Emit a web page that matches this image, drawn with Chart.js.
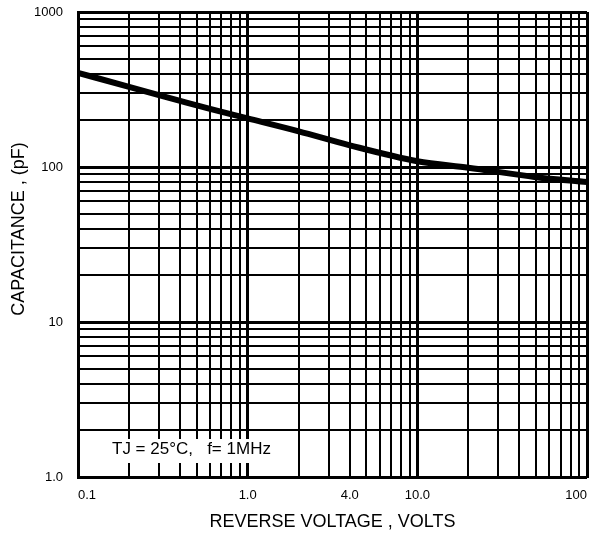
<!DOCTYPE html>
<html><head><meta charset="utf-8">
<script src="https://cdn.jsdelivr.net/npm/chart.js@4"></script>
<style>html,body{margin:0;padding:0;background:#fff}#wrap{width:590px;height:536px}</style>
</head><body><div id="wrap"><canvas id="c" width="590" height="536"></canvas></div>
<script>
// ---- data ----
const reverseVolts  = [0.1, 0.2, 0.3, 0.4, 0.6, 1.0, 2.0, 4.0, 10, 20, 50, 100];
const capacitancePF = [405, 329, 291, 267, 237, 206, 170, 138, 109, 99, 86, 80];
const xTickValues = [0.1, 1, 4, 10, 100];
const xTickTexts  = ['0.1', '1.0', '4.0', '10.0', '100'];
const yTickValues = [1, 10, 100, 1000];
const yTickTexts  = ['1.0', '10', '100', '1000'];
const xTitle = 'REVERSE VOLTAGE , VOLTS';
const yTitle = 'CAPACITANCE , (pF)';
const noteText = 'TJ = 25°C,   f= 1MHz';

const FONT = '"Liberation Sans", Arial, Helvetica, sans-serif';

function logGrid(min, max) {
  const out = [];
  for (let d = min; d < max * 1.0001; d = +(d * 10).toPrecision(6)) {
    for (let k = 1; k < 10; k++) {
      const v = +(d * k).toPrecision(6);
      if (v <= max * 1.0001) out.push(v);
    }
  }
  return out;
}
const xGrid = logGrid(0.1, 100);
const yGrid = logGrid(1, 1000);

function labelFor(v, vals, texts) {
  const i = vals.findIndex(t => Math.abs(t - v) / t < 1e-6);
  return i < 0 ? '' : texts[i];
}
function isDecade(v) {
  const l = Math.log10(v);
  return Math.abs(l - Math.round(l)) < 1e-6;
}
function noPad(s) {
  s.paddingTop = 0; s.paddingBottom = 0; s.paddingLeft = 0; s.paddingRight = 0;
}

const overlay = {
  id: 'overlay',
  beforeDatasetsDraw(chart) {
    const {ctx, chartArea: a} = chart;
    ctx.save();
    ctx.fillStyle = '#fff';
    ctx.fillRect(a.left + 32, a.bottom - 38, 167, 24);
    ctx.fillStyle = '#000';
    ctx.font = '17px ' + FONT;
    ctx.textBaseline = 'middle';
    ctx.textAlign = 'left';
    ctx.fillText(noteText, a.left + 34, a.bottom - 28);
    ctx.restore();
  },
  afterDraw(chart) {
    const {ctx} = chart;
    ctx.save();
    ctx.fillStyle = '#000';
    ctx.font = '18px ' + FONT;
    ctx.textBaseline = 'middle';
    ctx.textAlign = 'center';
    ctx.translate(19, 229);
    ctx.rotate(-Math.PI / 2);
    ctx.fillText(yTitle, 0, 0);
    ctx.restore();
  }
};

new Chart(document.getElementById('c'), {
  type: 'line',
  data: {
    datasets: [{
      data: reverseVolts.map((v, i) => ({x: v, y: capacitancePF[i]})),
      borderColor: '#000',
      borderWidth: 6,
      pointRadius: 0,
      fill: false,
      cubicInterpolationMode: 'monotone'
    }]
  },
  options: {
    responsive: false,
    animation: false,
    layout: {padding: {top: 12, right: 3, left: 0, bottom: 0}},
    plugins: {legend: {display: false}, tooltip: {enabled: false}},
    scales: {
      x: {
        type: 'logarithmic',
        min: 0.1, max: 100,
        afterBuildTicks: s => { s.ticks = xGrid.map(v => ({value: v})); },
        afterFit: s => { s.height = 59; noPad(s); },
        grid: {color: '#000', lineWidth: c => (c.tick && isDecade(c.tick.value)) ? 3 : 2, drawTicks: false},
        border: {display: true, color: '#000', width: 2},
        ticks: {
          autoSkip: false, maxRotation: 0, minRotation: 0, align: 'inner',
          padding: 11, color: '#000', font: {family: FONT, size: 13},
          callback: v => labelFor(v, xTickValues, xTickTexts)
        },
        title: {display: true, text: xTitle, color: '#000', font: {family: FONT, size: 18}, padding: {top: 0, bottom: 3}}
      },
      y: {
        type: 'logarithmic',
        min: 1, max: 1000,
        afterBuildTicks: s => { s.ticks = yGrid.map(v => ({value: v})); },
        afterFit: s => { s.width = 78; noPad(s); },
        grid: {color: '#000', lineWidth: c => (c.tick && isDecade(c.tick.value)) ? 3 : 2, drawTicks: false},
        border: {display: true, color: '#000', width: 2},
        ticks: {
          autoSkip: false, padding: 15, color: '#000', font: {family: FONT, size: 13},
          callback: v => labelFor(v, yTickValues, yTickTexts)
        },
        title: {display: false}
      }
    }
  },
  plugins: [overlay]
});
</script>
</body></html>
